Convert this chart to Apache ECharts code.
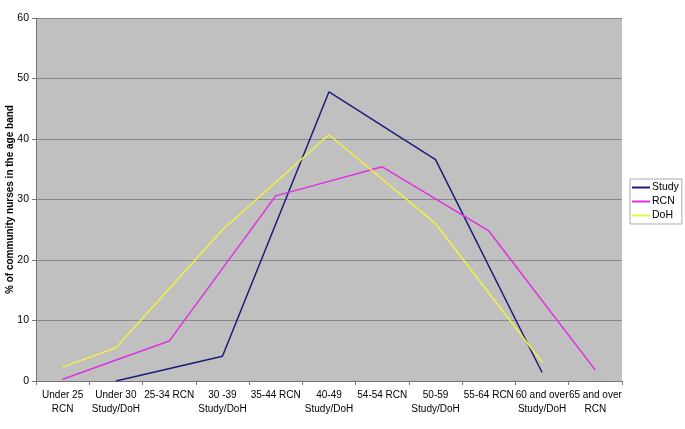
<!DOCTYPE html>
<html><head><meta charset="utf-8">
<script src="https://cdn.jsdelivr.net/npm/echarts@6/dist/echarts.min.js"></script>
<style>html,body{margin:0;padding:0;background:#fff}#c{width:685px;height:429px}</style>
</head><body><div id="c"></div>
<script>
const categories = ["Under 25\nRCN","Under 30\nStudy/DoH","25-34 RCN","30 -39\nStudy/DoH","35-44 RCN","40-49\nStudy/DoH","54-54 RCN","50-59\nStudy/DoH","55-64 RCN","60 and over\nStudy/DoH","65 and over\nRCN"];
const study = [null, 0, null, 4.1, null, 47.8, null, 36.6, null, 1.4, null];
const rcn   = [0.3, null, 6.6, null, 30.6, null, 35.4, null, 24.8, null, 1.8];
const doh   = [2.3, 5.5, null, 25.0, null, 40.7, null, 26.0, null, 3.1, null];
const yTicks = {min: 0, max: 60, interval: 10};
const yName = "% of community nurses in the age band";

const chart = echarts.init(document.getElementById('c'), null, {renderer: 'canvas'});
const lineSeries = (name, data, color) => ({
  name, type: 'line', data, connectNulls: true, symbol: 'none',
  lineStyle: {color, width: 1.5}, itemStyle: {color}, animation: false
});
chart.setOption({
  animation: false,
  textStyle: {fontFamily: 'Liberation Sans, Arial, sans-serif'},
  grid: {left: 36, right: 63, top: 18, bottom: 48, show: true, backgroundColor: '#c0c0c0', borderWidth: 0,
         containLabel: false, outerBoundsMode: 'none'},
  legend: {
    orient: 'vertical', left: 630, top: 179,
    backgroundColor: '#fff', borderColor: '#aaa', borderWidth: 1, padding: [2, 3, 2, 2],
    itemWidth: 18, itemHeight: 2, itemGap: 1,
    icon: 'rect',
    textStyle: {fontSize: 10.5, color: '#000', padding: [0, 0, 0, -3], lineHeight: 13},
    data: ['Study', 'RCN', 'DoH']
  },
  xAxis: {
    type: 'category', data: categories, boundaryGap: true,
    axisLine: {lineStyle: {color: '#777'}},
    axisTick: {show: true, alignWithLabel: false, length: 4, lineStyle: {color: '#777'}},
    axisLabel: {interval: 0, fontSize: 10, color: '#000', lineHeight: 14, margin: 7}
  },
  yAxis: {
    type: 'value', min: yTicks.min, max: yTicks.max, interval: yTicks.interval,
    name: yName, nameLocation: 'middle', nameGap: 21, nameMoveOverlap: false,
    nameTextStyle: {fontSize: 10, fontWeight: 'bold', color: '#000'},
    axisLine: {show: true, lineStyle: {color: '#777'}},
    axisTick: {show: true, length: 4, lineStyle: {color: '#777'}},
    axisLabel: {fontSize: 10.5, color: '#000', margin: 7},
    splitLine: {lineStyle: {color: '#888', width: 1}}
  },
  series: [
    lineSeries('Study', study, '#1c1c78'),
    lineSeries('RCN', rcn, '#e030e0'),
    lineSeries('DoH', doh, '#f0f040')
  ]
});
</script></body></html>
